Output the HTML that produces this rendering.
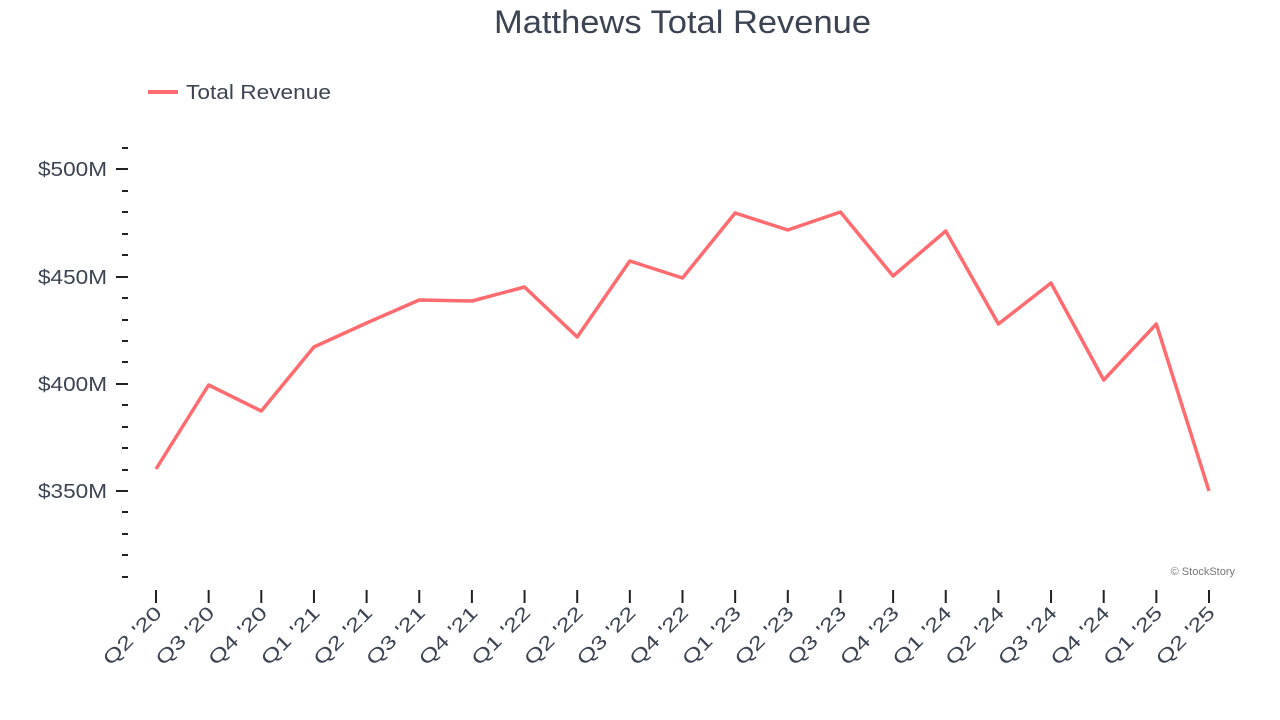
<!DOCTYPE html>
<html><head><meta charset="utf-8"><style>
html,body{margin:0;padding:0;background:#fff;}
svg{display:block;font-family:"Liberation Sans",Arial,sans-serif;}
</style></head><body>
<svg width="1280" height="720" viewBox="0 0 1280 720" xmlns="http://www.w3.org/2000/svg">
<text x="494" y="33" font-size="32" fill="#3c4454" textLength="377" lengthAdjust="spacingAndGlyphs">Matthews Total Revenue</text>
<line x1="148" y1="92" x2="178" y2="92" stroke="#ff6b6f" stroke-width="4"/>
<text x="186" y="99" font-size="20" fill="#3c4454" textLength="145" lengthAdjust="spacingAndGlyphs">Total Revenue</text>
<g stroke="#222" stroke-width="2">
<line x1="122" y1="148" x2="128" y2="148"/>
<line x1="116" y1="169" x2="128" y2="169"/>
<line x1="122" y1="191" x2="128" y2="191"/>
<line x1="122" y1="212" x2="128" y2="212"/>
<line x1="122" y1="234" x2="128" y2="234"/>
<line x1="122" y1="255" x2="128" y2="255"/>
<line x1="116" y1="277" x2="128" y2="277"/>
<line x1="122" y1="298" x2="128" y2="298"/>
<line x1="122" y1="320" x2="128" y2="320"/>
<line x1="122" y1="341" x2="128" y2="341"/>
<line x1="122" y1="362" x2="128" y2="362"/>
<line x1="116" y1="384" x2="128" y2="384"/>
<line x1="122" y1="405" x2="128" y2="405"/>
<line x1="122" y1="427" x2="128" y2="427"/>
<line x1="122" y1="448" x2="128" y2="448"/>
<line x1="122" y1="470" x2="128" y2="470"/>
<line x1="116" y1="491" x2="128" y2="491"/>
<line x1="122" y1="512" x2="128" y2="512"/>
<line x1="122" y1="534" x2="128" y2="534"/>
<line x1="122" y1="555" x2="128" y2="555"/>
<line x1="122" y1="577" x2="128" y2="577"/>
</g>
<g font-size="20" fill="#3c4454">
<text x="38" y="176" textLength="69" lengthAdjust="spacingAndGlyphs">$500M</text>
<text x="38" y="284" textLength="69" lengthAdjust="spacingAndGlyphs">$450M</text>
<text x="38" y="391" textLength="69" lengthAdjust="spacingAndGlyphs">$400M</text>
<text x="38" y="498" textLength="69" lengthAdjust="spacingAndGlyphs">$350M</text>
</g>
<g stroke="#222" stroke-width="2" id="xt"></g>
<g id="xl" font-size="19" fill="#3c4454" text-anchor="end"></g>
<polyline fill="none" stroke="#ff6b6f" stroke-width="3.5" stroke-linejoin="round" points="156,469 208.6,385 261.3,411 313.9,347 366.6,323 419.2,300 471.9,301 524.5,287 577.2,337 629.8,261 682.5,278 735.1,213 787.8,230 840.4,212 893.1,276 945.7,231 998.4,324 1051,283 1103.7,380 1156.3,324 1209,491"/>
<text x="1235" y="575" font-size="11" fill="#777" text-anchor="end">© StockStory</text>
<script>
var L=["Q2 '20","Q3 '20","Q4 '20","Q1 '21","Q2 '21","Q3 '21","Q4 '21","Q1 '22","Q2 '22","Q3 '22","Q4 '22","Q1 '23","Q2 '23","Q3 '23","Q4 '23","Q1 '24","Q2 '24","Q3 '24","Q4 '24","Q1 '25","Q2 '25"];
var ns="http://www.w3.org/2000/svg",xt=document.getElementById("xt"),xl=document.getElementById("xl");
L.forEach(function(s,i){var x=156+i*52.65;
var l=document.createElementNS(ns,"line");l.setAttribute("x1",x);l.setAttribute("x2",x);l.setAttribute("y1",590);l.setAttribute("y2",603);xt.appendChild(l);
var t=document.createElementNS(ns,"text");t.setAttribute("transform","translate("+(x+7)+",614) rotate(-45)");t.setAttribute("textLength","74");t.setAttribute("lengthAdjust","spacingAndGlyphs");t.textContent=s;xl.appendChild(t);});
</script>
</svg>
</body></html>
